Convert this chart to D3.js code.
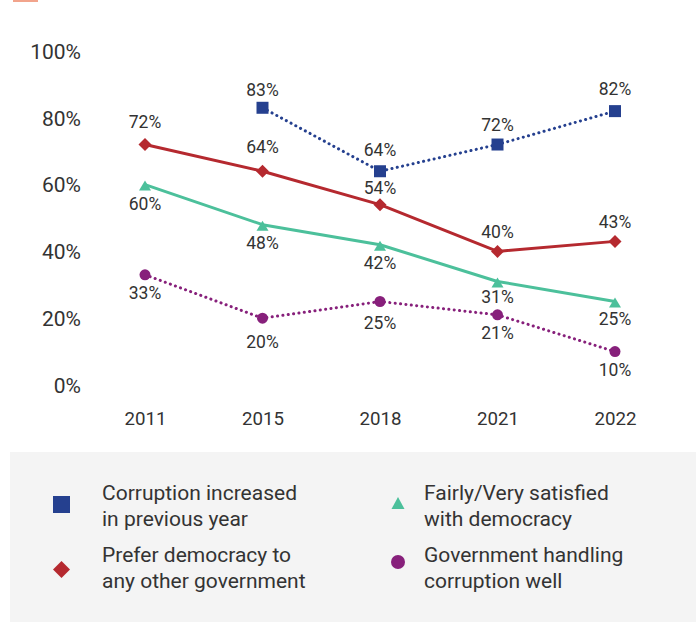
<!DOCTYPE html>
<html><head><meta charset="utf-8">
<script src="https://cdn.jsdelivr.net/npm/d3@7"></script>
<style>
html,body{margin:0;padding:0;background:#fff;}
svg{display:block;font-family:Roboto,"Noto Sans",sans-serif;}
</style></head>
<body>
<svg id="chart" width="696" height="622"></svg>
<script>
const years = ["2011","2015","2018","2021","2022"];
const corruptionIncreased = [null, 83, 64, 72, 82];
const preferDemocracy = [72, 64, 54, 40, 43];
const satisfiedDemocracy = [60, 48, 42, 31, 25];
const govHandlingCorruption = [33, 20, 25, 21, 10];
const yTicks = [0, 20, 40, 60, 80, 100];
const seriesNames = [
  ["Corruption increased","in previous year"],
  ["Prefer democracy to","any other government"],
  ["Fairly/Very satisfied","with democracy"],
  ["Government handling","corruption well"]
];

// marker shapes (w x h), custom paths
function shape(type, w, h){
  const p = d3.path();
  if(type==="square"){ p.rect(-w/2,-h/2,w,h); }
  else if(type==="diamond"){ p.moveTo(0,-h/2); p.lineTo(w/2,0); p.lineTo(0,h/2); p.lineTo(-w/2,0); p.closePath(); }
  else if(type==="triangle"){ p.moveTo(0,-h/2); p.lineTo(w/2,h/2); p.lineTo(-w/2,h/2); p.closePath(); }
  else if(type==="circle"){ return `M${-w/2},0a${w/2},${h/2} 0 1,0 ${w},0a${w/2},${h/2} 0 1,0 ${-w},0Z`; }
  return p.toString();
}

const styles = [
  {color:"#25408f", dash:true,  type:"square",   mw:12, mh:12, lw:17, lh:17, dy:[0,-18,-21,-20,-22]},
  {color:"#b5292f", dash:false, type:"diamond",  mw:13, mh:13, lw:17, lh:17, dy:[-23,-24,-17,-20,-20]},
  {color:"#4cc09b", dash:false, type:"triangle", mw:12, mh:10, lw:13, lh:12, dy:[19,18,18,15,17]},
  {color:"#87207b", dash:true,  type:"circle",   mw:11, mh:11, lw:14, lh:14, dy:[18,24,21,18,18]}
];
const seriesValues = [corruptionIncreased, preferDemocracy, satisfiedDemocracy, govHandlingCorruption];

const svg = d3.select("#chart");
const x = d3.scalePoint().domain(years).range([145, 615]);
const y = d3.scaleLinear().domain([0, 100]).range([385, 51]);

// top accent line
svg.append("rect").attr("x",13).attr("y",0).attr("width",25).attr("height",2).attr("fill","#f2a48c");

// y axis
const yAxis = d3.axisLeft(y).tickValues(yTicks).tickFormat(d=>d+"%").tickSize(0).tickPadding(0);
const yg = svg.append("g").attr("transform","translate(81,0)").call(yAxis);
yg.select(".domain").remove();
yg.selectAll("text").attr("font-size",21).attr("fill","#333").attr("font-family","Roboto,sans-serif").attr("dy","0.35em");

// x axis
const xAxis = d3.axisBottom(x).tickSize(0).tickPadding(0);
const xg = svg.append("g").attr("transform","translate(0,418)").call(xAxis);
xg.select(".domain").remove();
xg.selectAll("text").attr("font-size",18.7).attr("fill","#333").attr("font-family","Roboto,sans-serif").attr("dy","0.35em");

const line = d3.line().defined(d=>d.v!=null).x(d=>x(d.year)).y(d=>y(d.v));

seriesValues.forEach((vals,si)=>{
  const s = styles[si];
  const pts = years.map((yr,i)=>({year:yr, v:vals[i], dy:s.dy[i]}));
  svg.append("path").datum(pts).attr("d", line).attr("fill","none")
    .attr("stroke", s.color).attr("stroke-width", 3)
    .attr("stroke-dasharray", s.dash?"0.1,5.3":null)
    .attr("stroke-linecap", s.dash?"round":"butt")
    .attr("stroke-linejoin","round");
  const valid = pts.filter(d=>d.v!=null);
  svg.selectAll(null).data(valid).enter().append("path")
    .attr("d", shape(s.type, s.mw, s.mh))
    .attr("transform", d=>`translate(${x(d.year)},${y(d.v) + (s.type==="triangle"?1:0)})`)
    .attr("fill", s.color);
  svg.selectAll(null).data(valid).enter().append("text")
    .attr("x", d=>x(d.year))
    .attr("y", d=>y(d.v) + d.dy)
    .attr("dy","0.35em")
    .attr("text-anchor","middle")
    .attr("font-size",17.5).attr("fill","#333")
    .text(d=>d.v+"%");
});

// legend
svg.append("rect").attr("x",10).attr("y",452).attr("width",686).attr("height",170).attr("fill","#f4f4f4");
const legPos = [[61.5,504.5,102,493],[61.5,569.5,102,555],[398,503,424,493],[398,562,424,555]];
seriesNames.forEach((nm,i)=>{
  const s = styles[i];
  const [mx,my,tx,ty] = legPos[i];
  svg.append("path").attr("d", shape(s.type, s.lw, s.lh))
    .attr("transform",`translate(${mx},${my})`).attr("fill", s.color);
  nm.forEach((ln,j)=>{
    svg.append("text").attr("x",tx).attr("y",ty + j*25.5).attr("dy","0.35em")
      .attr("font-size",21).attr("fill","#333").text(ln);
  });
});
</script>
</body></html>
